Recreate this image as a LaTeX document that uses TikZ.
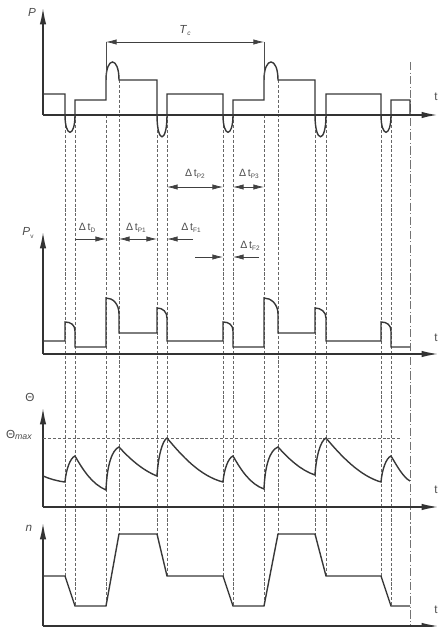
\documentclass[tikz,border=0pt]{standalone}
\usepackage{fontspec}
\setmainfont{Liberation Sans}
\usetikzlibrary{positioning,arrows.meta}
\tikzstyle{axis}=[draw=black!80, line width=1.2pt, -{Latex[length=14pt,width=5.5pt]}]
\tikzstyle{curve}=[draw=black!78, line width=1.2pt, line join=miter]
\tikzstyle{guide}=[draw=black!60, line width=0.6pt, dash pattern=on 2.6pt off 1.6pt]
\tikzstyle{chain}=[draw=black!55, line width=0.6pt, dash pattern=on 7pt off 2pt on 1pt off 2pt]
\tikzstyle{dim}=[draw=black!75, line width=0.6pt, {Latex[length=9pt,width=4.5pt]}-{Latex[length=9pt,width=4.5pt]}]
\tikzstyle{dimr}=[draw=black!75, line width=0.6pt, -{Latex[length=9pt,width=4.5pt]}]
\tikzstyle{lbl}=[inner sep=0pt, text=black!70, font=\fontsize{10}{11}\selectfont]
\tikzstyle{dlbl}=[inner sep=0pt, text=black!70, font=\fontsize{9}{10}\selectfont]
\newcommand{\low}[1]{\raisebox{-0.35ex}{\fontsize{5.5}{6}\selectfont #1}}

\begin{document}
\begin{tikzpicture}[x=0.03cm, y=-0.03cm]
        \useasboundingbox (0,0) rectangle (440,627);

        % guide lines between the four panels
        \foreach \gx/\gtop/\gbot in {65/115/576, 75/115/606, 106/115/606, 119/80/534,
                157/115/534, 167/115/576, 223/115/576, 233/115/606, 264/115/606,
                278/80/534, 315/115/534, 326/115/576, 381/115/576, 391/115/606}
          \draw[guide] (\gx,\gtop) -- (\gx,\gbot);
        \draw[chain] (410,62) -- (410,627);

        % power P
        \draw[axis, line width=1.6pt] (43,115) -- (438,115);
        \draw[axis] (43,115) -- (43,8);
        \draw[curve] (43,94) -- (65,94) -- (65,115) .. controls (65,138) and (75,138) .. (75,115)
          -- (75,100) -- (106,100) -- (106,80) .. controls (106,56) and (119,56) .. (119,80)
          -- (157,80) -- (157,115) .. controls (157,144) and (167,144) .. (167,115)
          -- (167,94) -- (223,94) -- (223,115) .. controls (223,138) and (233,138) .. (233,115)
          -- (233,100) -- (264,100) -- (264,80) .. controls (264,56) and (278,56) .. (278,80)
          -- (315,80) -- (315,115) .. controls (315,144) and (326,144) .. (326,115)
          -- (326,94) -- (381,94) -- (381,115) .. controls (381,138) and (391,138) .. (391,115)
          -- (391,100) -- (410,100) -- (410,115);
        \coordinate (tcA) at (106,42);
        \coordinate (tcB) at (264,42);
        \draw[draw=black!70, line width=0.5pt] (tcA) -- (106,80) (tcB) -- (264,80);
        \draw[dim] (tcA) -- (tcB) node (tc) [lbl, midway, above=5pt] {\textit{T}\low{\textit{c}}};
        \node (labP) [lbl] at (32,12) {\textit{P}};
        \node (tP) [lbl] at (436,97) {t};

        % dead times and periods
        \draw[dim] (167,187) -- (223,187);
        \draw[dim] (233,187) -- (264,187);
        \node (dP2) [dlbl] at (195,174) {Δ\,t\low{P2}};
        \node (dP3) [dlbl] at (249,174) {Δ\,t\low{P3}};
        \draw[dimr] (75,239) -- (106,239);
        \draw[dim] (119,239) -- (157,239);
        \draw[dimr] (193,239) -- (167,239);
        \node (dD) [dlbl] at (87,228) {Δ\,t\low{D}};
        \node (dP1) [dlbl] at (136,228) {Δ\,t\low{P1}};
        \node (dF1) [dlbl] at (191,228) {Δ\,t\low{F1}};
        \draw[dimr] (195,257) -- (223,257);
        \draw[dimr] (259,257) -- (233,257);
        \node (dF2) [dlbl] at (250,246) {Δ\,t\low{F2}};

        % losses Pv
        \draw[axis] (43,354) -- (438,354);
        \draw[axis] (43,354) -- (43,232);
        \draw[curve] (43,341) -- (65,341) -- (65,322) .. controls (71,322) and (75,325) .. (75,331)
          -- (75,347) -- (106,347) -- (106,298) .. controls (113,298) and (119,304) .. (119,314)
          -- (119,333) -- (157,333) -- (157,308) .. controls (163,308) and (167,312) .. (167,318)
          -- (167,341) -- (223,341) -- (223,322) .. controls (229,322) and (233,325) .. (233,331)
          -- (233,347) -- (264,347) -- (264,298) .. controls (271,298) and (278,304) .. (278,314)
          -- (278,333) -- (315,333) -- (315,308) .. controls (321,308) and (326,312) .. (326,318)
          -- (326,341) -- (381,341) -- (381,322) .. controls (387,322) and (391,325) .. (391,331)
          -- (391,347) -- (410,347);
        \node (labPv) [lbl] at (28,233) {\textit{P}\low{v}};
        \node (tPv) [lbl] at (436,338) {t};

        % temperature
        \draw[axis] (43,507) -- (438,507);
        \draw[axis] (43,507) -- (43,408);
        \draw[guide] (43,438) -- (402,438);
        \draw[curve] (43,476) .. controls (50,479) and (57,481) .. (65,482)
          .. controls (66,470) and (70,458) .. (75,456)
          .. controls (83,470) and (92,484) .. (106,490)
          .. controls (107,465) and (112,450) .. (119,447)
          .. controls (129,458) and (142,470) .. (157,476)
          .. controls (158,458) and (162,441) .. (167,438)
          .. controls (182,456) and (200,476) .. (223,482)
          .. controls (224,470) and (228,458) .. (233,456)
          .. controls (241,470) and (250,484) .. (264,489)
          .. controls (265,465) and (270,450) .. (278,447)
          .. controls (288,458) and (300,470) .. (315,475)
          .. controls (316,458) and (320,441) .. (326,438)
          .. controls (341,456) and (360,476) .. (381,482)
          .. controls (382,470) and (386,458) .. (391,456)
          .. controls (397,466) and (403,477) .. (410,481);
        \node (labT) [lbl] at (30,397) {Θ};
        \node (labTmax) [lbl] at (19,435) {Θ\raisebox{-0.3ex}{\fontsize{7.5}{8}\selectfont\textit{max}}};
        \node (tT) [lbl] at (436,490) {t};

        % speed n
        \draw[axis] (43,626) -- (438,626);
        \draw[axis] (43,626) -- (43,523);
        \draw[curve] (43,576) -- (65,576) -- (75,606) -- (106,606) -- (119,534) -- (157,534)
          -- (167,576) -- (223,576) -- (233,606) -- (264,606) -- (278,534) -- (315,534)
          -- (326,576) -- (381,576) -- (391,606) -- (410,606);
        \node (labn) [lbl] at (29,528) {\textit{n}};
        \node (tn) [lbl] at (436,610) {t};
\end{tikzpicture}
\end{document}
